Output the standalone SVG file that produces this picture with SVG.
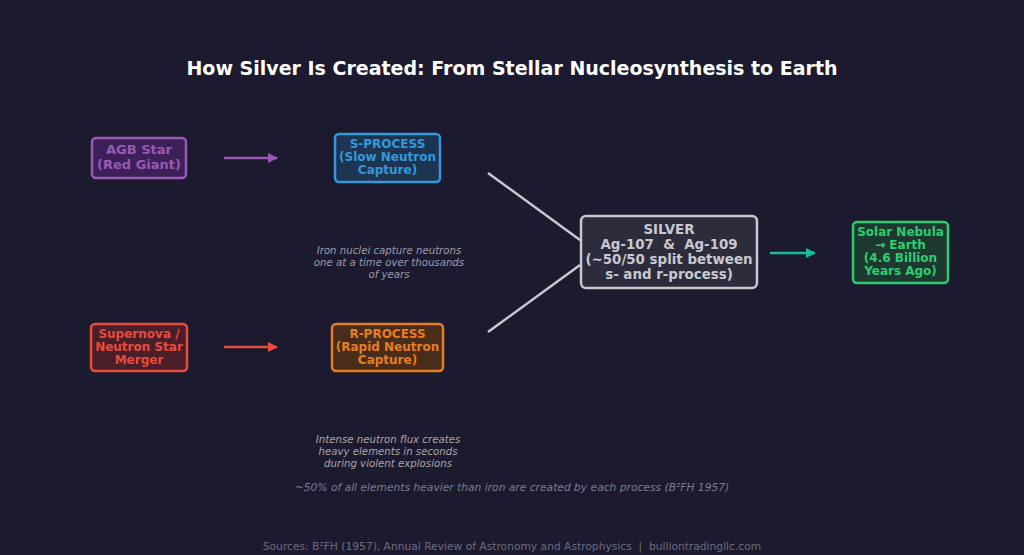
<svg xmlns="http://www.w3.org/2000/svg" width="1024" height="555" viewBox="0 0 1024 555">
<defs>
<style>
text{font-family:"DejaVu Sans","Liberation Sans",sans-serif;text-anchor:middle}
.t{font-size:19px;font-weight:bold;fill:#ffffff}
.b{font-size:12px;font-weight:bold}
.n{font-size:10.2px;font-style:italic;fill:#9a9aae}
.rn{fill:#aca4a4}
.f{font-size:10.7px;font-style:italic;fill:#7c7c90}
.s{font-size:10.7px;fill:#6c6c80}
.box{stroke-width:2.5}
</style>
<marker id="mp" viewBox="0 0 10 10" refX="9" refY="5" markerWidth="4" markerHeight="4" orient="auto"><path d="M0,0L10,5L0,10z" fill="#9b59b6"/></marker>
<marker id="mr" viewBox="0 0 10 10" refX="9" refY="5" markerWidth="4" markerHeight="4" orient="auto"><path d="M0,0L10,5L0,10z" fill="#e74c3c"/></marker>
<marker id="mt" viewBox="0 0 10 10" refX="9" refY="5" markerWidth="4" markerHeight="4" orient="auto"><path d="M0,0L10,5L0,10z" fill="#1abc9c"/></marker>
</defs>
<rect width="1024" height="555" fill="#1b1a2e"/>
<text class="t" x="512" y="75">How Silver Is Created: From Stellar Nucleosynthesis to Earth</text>

<g id="connectors" fill="none" stroke-width="2.5">
<line x1="224" y1="158" x2="277" y2="158" stroke="#9b59b6" marker-end="url(#mp)"/>
<line x1="224" y1="347" x2="277" y2="347" stroke="#e74c3c" marker-end="url(#mr)"/>
<line x1="488" y1="173" x2="580" y2="240" stroke="#c8c8d0"/>
<line x1="488" y1="332" x2="580" y2="265" stroke="#c8c8d0"/>
<line x1="770" y1="253" x2="815" y2="253" stroke="#1abc9c" marker-end="url(#mt)"/>
</g>

<g id="agb">
<rect class="box" x="92" y="138" width="94" height="40" rx="4" fill="#3b2157" stroke="#9b59b6"/>
<text class="b" x="139" y="154" fill="#9b59b6" style="font-size:13px">AGB Star</text>
<text class="b" x="139" y="169" fill="#9b59b6" style="font-size:13px">(Red Giant)</text>
</g>

<g id="sprocess">
<rect class="box" x="335" y="134" width="105" height="48" rx="4" fill="#1e3552" stroke="#3498db"/>
<text class="b" x="387.5" y="148" fill="#3498db">S-PROCESS</text>
<text class="b" x="387.5" y="161" fill="#3498db">(Slow Neutron</text>
<text class="b" x="387.5" y="174" fill="#3498db">Capture)</text>
</g>

<g id="snote">
<text class="n" x="389" y="254">Iron nuclei capture neutrons</text>
<text class="n" x="389" y="266">one at a time over thousands</text>
<text class="n" x="389" y="278">of years</text>
</g>

<g id="supernova">
<rect class="box" x="91" y="324" width="96" height="47" rx="4" fill="#4a1f2a" stroke="#e74c3c"/>
<text class="b" x="139" y="338" fill="#e74c3c">Supernova /</text>
<text class="b" x="139" y="351" fill="#e74c3c">Neutron Star</text>
<text class="b" x="139" y="364" fill="#e74c3c">Merger</text>
</g>

<g id="rprocess">
<rect class="box" x="332" y="324" width="111" height="47" rx="4" fill="#4a2c1a" stroke="#e67e22"/>
<text class="b" x="387.5" y="338" fill="#e67e22">R-PROCESS</text>
<text class="b" x="387.5" y="351" fill="#e67e22">(Rapid Neutron</text>
<text class="b" x="387.5" y="364" fill="#e67e22">Capture)</text>
</g>

<g id="rnote">
<text class="n rn" x="388" y="443">Intense neutron flux creates</text>
<text class="n rn" x="388" y="455">heavy elements in seconds</text>
<text class="n rn" x="388" y="467">during violent explosions</text>
</g>

<g id="silver">
<rect class="box" x="581" y="216" width="176" height="72" rx="5" fill="#2c2c3c" stroke="#c8c8d0"/>
<text class="b" x="669" y="234" fill="#c8c8d0" style="font-size:13.4px">SILVER</text>
<text class="b" x="669" y="249" fill="#c8c8d0" style="font-size:13.4px" xml:space="preserve">Ag-107  &amp;  Ag-109</text>
<text class="b" x="669" y="264" fill="#c8c8d0" style="font-size:13.4px">(~50/50 split between</text>
<text class="b" x="669" y="279" fill="#c8c8d0" style="font-size:13.4px">s- and r-process)</text>
</g>

<g id="earth">
<rect class="box" x="853" y="222" width="95" height="61" rx="4" fill="#1e3a30" stroke="#2ecc71"/>
<text class="b" x="900.5" y="236" fill="#2ecc71">Solar Nebula</text>
<text class="b" x="900.5" y="249" fill="#2ecc71">→ Earth</text>
<text class="b" x="900.5" y="262" fill="#2ecc71">(4.6 Billion</text>
<text class="b" x="900.5" y="275" fill="#2ecc71">Years Ago)</text>
</g>

<text class="f" x="512" y="491">~50% of all elements heavier than iron are created by each process (B²FH 1957)</text>
<text class="s" x="512" y="550" xml:space="preserve">Sources: B²FH (1957), Annual Review of Astronomy and Astrophysics  |  bulliontradingllc.com</text>
</svg>
